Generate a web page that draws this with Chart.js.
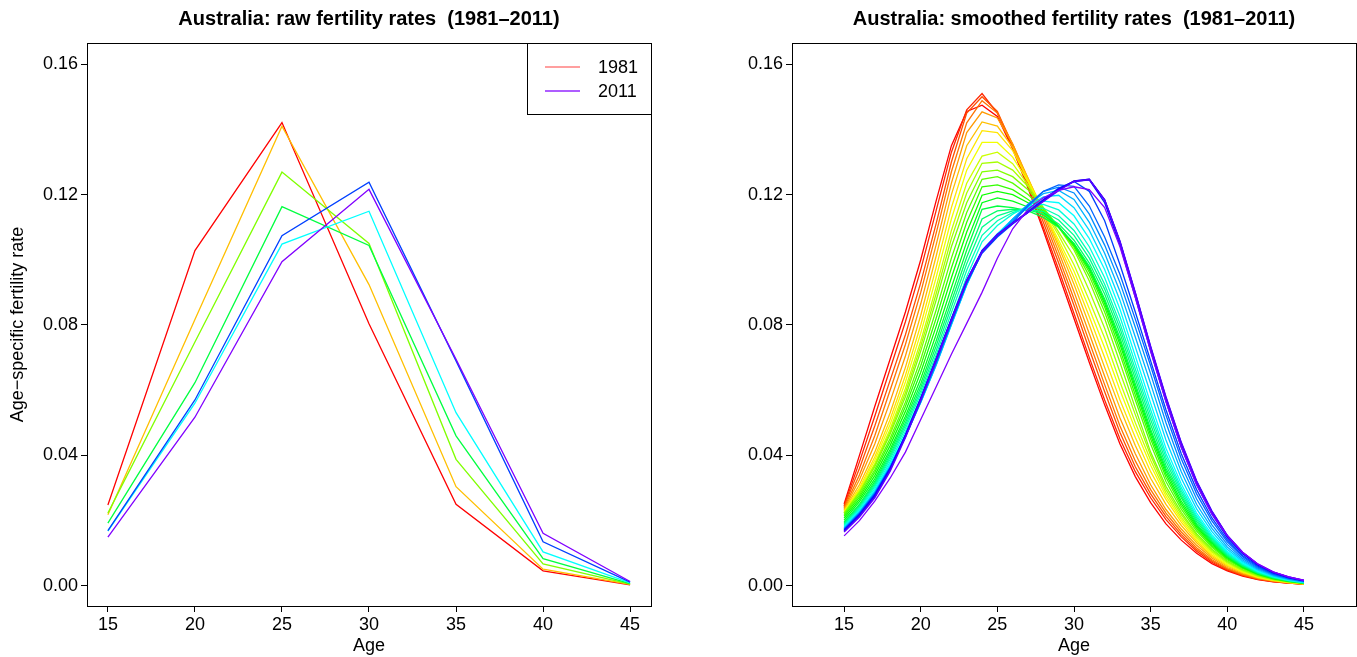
<!DOCTYPE html>
<html>
<head>
<meta charset="utf-8">
<script src="https://cdn.jsdelivr.net/npm/chart.js@4/dist/chart.umd.min.js"></script>
<style>
  body { margin: 0; background: #fff; overflow: hidden; width: 1357px; height: 657px; }
  .panel { position: absolute; top: 0; }
</style>
</head>
<body>
<div class="panel" style="left:0px"><canvas id="rawChart" width="738" height="657"></canvas></div>
<div class="panel" style="left:738px"><canvas id="smoothChart" width="672" height="657"></canvas></div>
<script>
// raw rates, one line per census year, ages 15..45 by 5
const rawAges = [15, 20, 25, 30, 35, 40, 45];
const rawYears = [1981, 1986, 1991, 1996, 2001, 2006, 2011];
const rawRates = [
  [0.0248, 0.1028, 0.1421, 0.0804, 0.0250, 0.0046, 0.0003],
  [0.0218, 0.0817, 0.1410, 0.0924, 0.0304, 0.0051, 0.0004],
  [0.0223, 0.0748, 0.1269, 0.1050, 0.0388, 0.0067, 0.0005],
  [0.0192, 0.0623, 0.1163, 0.1044, 0.0460, 0.0083, 0.0007],
  [0.0168, 0.0560, 0.1048, 0.1149, 0.0531, 0.0104, 0.0009],
  [0.0169, 0.0570, 0.1074, 0.1238, 0.0690, 0.0135, 0.0011],
  [0.0149, 0.0517, 0.0994, 0.1216, 0.0695, 0.0161, 0.0013],
];

// smoothed rates (per 1000 women), single years of age 15..45
const ages = [15, 16, 17, 18, 19, 20, 21, 22, 23, 24, 25, 26, 27, 28, 29, 30,
  31, 32, 33, 34, 35, 36, 37, 38, 39, 40, 41, 42, 43, 44, 45];
const smoothYears = [1981, 1982, 1983, 1984, 1985, 1986, 1987, 1988, 1989, 1990,
  1991, 1992, 1993, 1994, 1995, 1996, 1997, 1998, 1999, 2000, 2001, 2002, 2003,
  2004, 2005, 2006, 2007, 2008, 2009, 2010, 2011];
const smoothPerThousand = [
  [25.1, 40, 55, 69.5, 84, 100, 118, 135, 145.5, 147.4, 144, 134, 122, 109, 95.5, 82, 68.5, 55.5, 43.5, 33.5, 25.5, 19, 14, 10, 6.8, 4.6, 3.0, 1.9, 1.2, 0.8, 0.5],
  [24.6, 38, 52, 66.5, 81, 97, 115, 133, 146, 151, 145, 134.5, 122.5, 110, 97, 83.5, 70, 57, 45, 35, 27, 20.3, 15, 10.6, 7.2, 4.8, 3.2, 2.0, 1.3, 0.8, 0.5],
  [24.3, 36, 49, 63, 77, 93, 111, 130, 145, 150, 145.5, 135, 123.5, 111.5, 99, 86, 72.5, 59.5, 47, 36.5, 28.2, 21.3, 15.7, 11.1, 7.6, 5.1, 3.3, 2.1, 1.35, 0.85, 0.5],
  [23.9, 34, 46, 60, 74, 90, 108, 127, 142, 148.8, 145, 135.5, 124.5, 113, 100.8, 88, 74.8, 61.7, 49, 38.3, 29.5, 22.3, 16.5, 11.7, 8.0, 5.3, 3.5, 2.2, 1.4, 0.9, 0.55],
  [23.5, 32.5, 43.5, 56.5, 70.5, 86.5, 104.5, 123.5, 139, 145.4, 143.5, 135.5, 125, 114.2, 102.5, 90.2, 77.3, 64.3, 51.5, 40.5, 31, 23.4, 17.4, 12.4, 8.5, 5.6, 3.7, 2.35, 1.5, 0.95, 0.55],
  [23.2, 31, 41, 53, 67, 83, 101, 120, 135, 142.3, 141, 134.5, 125, 115, 104, 92.5, 80, 67, 54.5, 43, 33, 25, 18.5, 13.2, 9.0, 6.0, 4.0, 2.5, 1.6, 1.0, 0.6],
  [22.9, 30, 39.5, 51, 64.5, 80, 97.5, 116, 131, 139.6, 139, 133.5, 124.5, 115, 105, 94.5, 82.5, 70, 57, 45.5, 35, 26.5, 19.5, 13.8, 9.4, 6.3, 4.2, 2.6, 1.65, 1.05, 0.6],
  [22.6, 29.5, 38.5, 49.5, 62.5, 77.5, 94.5, 112.5, 127.5, 136, 136, 131.5, 124, 115.2, 106, 96.5, 85, 73, 60, 48, 37, 27.5, 20.3, 14.3, 9.9, 6.6, 4.4, 2.75, 1.75, 1.1, 0.65],
  [22.4, 29, 37.5, 48, 60.5, 75, 91.5, 109, 123.5, 131.8, 133, 129.5, 123, 115.5, 107.5, 98.5, 87.5, 76, 62.5, 50, 38.5, 28.5, 21, 14.9, 10.4, 7.0, 4.6, 2.9, 1.8, 1.15, 0.7],
  [22.3, 28.7, 37, 47.2, 59.2, 73.5, 89.5, 106.5, 120.5, 129.6, 130, 127.5, 122.5, 116, 108.5, 101, 90.5, 79, 65.5, 52.5, 40, 29.5, 21.8, 15.5, 10.8, 7.3, 4.8, 3.05, 1.9, 1.2, 0.7],
  [22.2, 28.4, 36.5, 46.5, 58, 72, 87.5, 104, 117.5, 127, 127.5, 125.5, 121.5, 116, 110, 103, 93.5, 82, 68.5, 54.5, 41, 30.5, 22.5, 16, 11.2, 7.6, 5.0, 3.2, 2.0, 1.25, 0.75],
  [21.8, 27.8, 35.6, 45.2, 56.3, 69.5, 84.5, 100.5, 114.5, 124.7, 125.5, 123.5, 120, 115.5, 110, 103.8, 95, 84, 71, 57, 43.5, 32, 23.5, 16.8, 11.8, 8.0, 5.3, 3.4, 2.1, 1.3, 0.8],
  [21.4, 27.2, 34.8, 44.2, 55, 67.5, 82, 97.5, 111.5, 122.4, 123, 121.5, 118.5, 115, 110.2, 104.3, 96.2, 85.5, 72.5, 58.5, 45, 33.3, 24.4, 17.5, 12.3, 8.3, 5.5, 3.5, 2.2, 1.35, 0.8],
  [20.8, 26.5, 33.8, 43, 53.5, 65.5, 79.5, 94.5, 108.5, 119.8, 121, 120, 117.5, 114.5, 110.2, 104.6, 97, 86.5, 74, 60, 46.2, 34.3, 25.2, 18.1, 12.7, 8.6, 5.7, 3.6, 2.25, 1.4, 0.85],
  [20.1, 25.8, 32.8, 41.8, 52, 63.5, 77, 91.5, 105.5, 117.5, 119, 118, 116.2, 113.8, 110, 104.8, 97.5, 87.3, 75, 61, 47.2, 35.2, 26, 18.6, 13.1, 8.8, 5.8, 3.7, 2.3, 1.45, 0.85],
  [19.5, 25, 32, 41, 51, 62, 75, 89, 103, 115.5, 116.5, 116, 115, 113, 110, 105, 98, 88, 76, 62, 48, 36, 27, 19, 13.5, 9, 6, 3.8, 2.4, 1.5, 0.9],
  [19.2, 24.6, 31.4, 40.2, 50, 60.8, 73.5, 87.2, 100.8, 112.5, 115, 115.5, 115.3, 114, 111, 106, 99, 89.5, 77.5, 63.5, 49.5, 37, 27.6, 19.7, 13.9, 9.3, 6.2, 3.9, 2.45, 1.55, 0.9],
  [18.9, 24.2, 30.9, 39.5, 49.2, 59.8, 72, 85.5, 98.8, 110, 113.5, 115, 115.5, 114.8, 112.2, 107.5, 100.5, 91, 79, 65, 51, 38.2, 28.4, 20.3, 14.3, 9.6, 6.4, 4.05, 2.55, 1.6, 0.95],
  [18.6, 23.8, 30.4, 38.8, 48.3, 58.8, 70.7, 83.8, 96.8, 107.5, 112, 114.5, 116, 115.8, 113.5, 109, 102, 92.5, 80.5, 66.5, 52.5, 39.4, 29.2, 20.9, 14.7, 9.9, 6.6, 4.2, 2.65, 1.65, 1.0],
  [18.3, 23.4, 29.8, 38, 47.3, 57.7, 69.3, 82, 94.8, 105.5, 110.5, 114, 116.5, 117, 115.3, 111, 104, 94.5, 82.5, 68.3, 54, 40.6, 30.1, 21.5, 15.1, 10.2, 6.8, 4.35, 2.75, 1.7, 1.0],
  [18, 23, 29.3, 37.3, 46.3, 56.5, 67.8, 80.2, 92.5, 103, 108, 112.5, 116, 118, 117.5, 113.5, 106.5, 97, 84.8, 70.5, 56, 42.2, 31.2, 22.3, 15.7, 10.6, 7.1, 4.5, 2.85, 1.8, 1.05],
  [17.8, 22.7, 28.9, 36.8, 45.9, 56.2, 67.6, 80, 92.2, 102.5, 107.5, 112.5, 116.5, 119.3, 119.8, 116, 109, 99.5, 87.5, 73.3, 59, 44.7, 33, 23.6, 16.6, 11.2, 7.5, 4.8, 3.0, 1.9, 1.1],
  [17.6, 22.5, 28.6, 36.5, 45.7, 56.3, 67.8, 80.3, 92.4, 102.5, 107.5, 112.5, 117, 120.3, 121.3, 118.5, 111.5, 102, 90.3, 76.3, 62, 47.3, 35, 25, 17.6, 11.9, 7.9, 5.1, 3.2, 2.0, 1.2],
  [17.4, 22.3, 28.4, 36.3, 45.7, 56.5, 68.2, 80.7, 92.8, 102.5, 107.5, 112, 117, 121, 122.3, 120.5, 114, 104.5, 93, 79.3, 65, 50, 37, 26.6, 18.7, 12.7, 8.4, 5.4, 3.4, 2.15, 1.3],
  [17.3, 22.1, 28.2, 36.2, 45.8, 56.8, 68.6, 81, 93, 102.5, 107.3, 111.5, 116.5, 121, 123, 122.5, 116.5, 107, 95.5, 81.8, 67.5, 52.4, 39, 28.2, 19.9, 13.5, 8.9, 5.7, 3.6, 2.3, 1.4],
  [17.2, 22, 28, 36, 46, 57, 69, 81, 93, 102, 107, 111, 114.5, 118.5, 122, 124, 121, 112, 98.5, 84, 69, 54, 40.5, 29.5, 20.8, 14.1, 9.3, 6, 3.8, 2.4, 1.5],
  [17, 21.8, 27.8, 36, 46.3, 57.5, 69.5, 81.7, 93.5, 102.5, 107.5, 111.3, 114.8, 118.3, 121.8, 124, 124.5, 117.5, 104.5, 88.5, 72, 56.5, 42.5, 31, 22, 14.8, 9.8, 6.3, 4.0, 2.5, 1.55],
  [16.9, 21.6, 27.6, 35.8, 46.2, 57.5, 69.6, 81.9, 93.7, 102.7, 107.7, 111.2, 114.6, 118.2, 121.6, 124.1, 124.7, 118.3, 105.5, 89.5, 73, 57.5, 43.5, 31.8, 22.6, 15.3, 10.1, 6.5, 4.1, 2.6, 1.6],
  [16.7, 21.4, 27.3, 35.5, 45.9, 57.3, 69.4, 81.8, 93.7, 102.8, 107.8, 111.3, 114.6, 118, 121.4, 124.2, 124.7, 118.5, 105.8, 90, 73.5, 58, 44, 32.2, 22.9, 15.5, 10.3, 6.6, 4.2, 2.7, 1.65],
  [16.5, 21.1, 27, 35.1, 45.4, 56.8, 69, 81.4, 93.3, 102.5, 107.6, 111.2, 114.5, 117.9, 121.2, 124, 124.6, 118.3, 105.5, 89.8, 73.3, 57.8, 43.8, 32, 22.8, 15.4, 10.2, 6.6, 4.2, 2.7, 1.65],
  [15.3, 20, 26, 33, 41, 51, 61, 71, 80.5, 90, 100.5, 109.5, 115.5, 119, 121.3, 122.4, 121.5, 116, 104, 88.5, 72, 56.5, 42.5, 31, 22, 15.3, 10.3, 6.7, 4.3, 2.7, 1.7],
];

const xTicks = [15, 20, 25, 30, 35, 40, 45];
const yTicks = [0, 0.04, 0.08, 0.12, 0.16];

const FONT = "'Liberation Sans', Arial, Helvetica, sans-serif";

// R's rainbow(n, end = 0.75)
function rainbow(n, end) {
  const out = [];
  for (let i = 0; i < n; i++) {
    const h = (end * i / (n - 1)) * 6;
    const k = Math.floor(h), f = h - k;
    const rgb = [[1, f, 0], [1 - f, 1, 0], [0, 1, f], [0, 1 - f, 1], [f, 0, 1], [1, 0, 1 - f]][k % 6];
    out.push("rgb(" + rgb.map(c => Math.round(c * 255)).join(",") + ")");
  }
  return out;
}

// box round the plot + main title centred over the plot, like base R
const boxPlugin = {
  id: "box",
  afterDraw(chart, args, opts) {
    const { ctx, chartArea: a } = chart;
    ctx.save();
    ctx.strokeStyle = "#000";
    ctx.lineWidth = 1;
    ctx.strokeRect(Math.round(a.left) + 0.5, Math.round(a.top) + 0.5,
      Math.round(a.right - a.left), Math.round(a.bottom - a.top));
    ctx.font = "bold 20px " + FONT;
    ctx.fillStyle = "#000";
    ctx.textAlign = "center";
    ctx.textBaseline = "middle";
    ctx.fillText(opts.text, (a.left + a.right) / 2, 19);
    ctx.restore();
  },
};

const legendPlugin = {
  id: "cornerLegend",
  afterDraw(chart) {
    const { ctx, chartArea: a } = chart;
    const sets = chart.data.datasets;
    const items = [sets[0], sets[sets.length - 1]];
    const colors = ["rgba(255,0,0,0.5)", "rgba(128,0,255,0.85)"];
    ctx.save();
    ctx.strokeStyle = "#000";
    ctx.lineWidth = 1;
    ctx.strokeRect(527.5, a.top + 0.5, a.right - 527, 71);
    ctx.font = "18px " + FONT;
    ctx.fillStyle = "#000";
    ctx.textBaseline = "middle";
    items.forEach((d, i) => {
      const y = a.top + 24 + i * 24;
      ctx.strokeStyle = colors[i];
      ctx.lineWidth = 1.3;
      ctx.beginPath();
      ctx.moveTo(545, y);
      ctx.lineTo(580, y);
      ctx.stroke();
      ctx.fillText(d.label, 598, y + 1);
    });
    ctx.restore();
  },
};

function makeOptions(title, xMin, xMax, yTitle, yWidth, padRight) {
  return {
    responsive: false,
    animation: false,
    events: [],
    layout: { padding: { left: 0, right: padRight, top: 43, bottom: 0 } },
    plugins: {
      legend: { display: false },
      tooltip: { enabled: false },
      title: { display: false },
      box: { text: title },
    },
    scales: {
      x: {
        type: "linear",
        min: xMin,
        max: xMax,
        afterBuildTicks: s => { s.ticks = xTicks.map(v => ({ value: v })); },
        afterFit: s => { s.height = 51; },
        ticks: { color: "#000", font: { family: FONT, size: 18 }, padding: 2 },
        grid: { drawOnChartArea: false, tickLength: 6, tickColor: "#000", tickWidth: 1 },
        border: { display: false },
        title: { display: true, text: "Age", color: "#000", font: { family: FONT, size: 18 }, padding: { top: 1, bottom: 0 } },
      },
      y: {
        type: "linear",
        min: -0.0062,
        max: 0.1665,
        afterBuildTicks: s => { s.ticks = yTicks.map(v => ({ value: v })); },
        afterFit: s => { s.width = yWidth; },
        ticks: { color: "#000", font: { family: FONT, size: 18 }, padding: 3, callback: v => v.toFixed(2) },
        grid: { drawOnChartArea: false, tickLength: 6, tickColor: "#000", tickWidth: 1 },
        border: { display: false },
        title: { display: !!yTitle, text: yTitle, color: "#000", font: { family: FONT, size: 18 }, padding: { top: 7, bottom: 0 } },
      },
    },
  };
}

const rawColors = rainbow(rawYears.length, 0.75);
new Chart(document.getElementById("rawChart"), {
  type: "line",
  data: {
    datasets: rawYears.map((yr, i) => ({
      label: String(yr),
      data: rawAges.map((a, j) => ({ x: a, y: rawRates[i][j] })),
      borderColor: rawColors[i],
      borderWidth: 1.3,
      pointRadius: 0,
      tension: 0,
      fill: false,
      order: rawYears.length - i,
    })),
  },
  options: makeOptions("Australia: raw fertility rates  (1981\u20132011)", 13.8, 46.2,
    "Age\u2212specific fertility rate", 87, 87),
  plugins: [boxPlugin, legendPlugin],
});

const smoothColors = rainbow(smoothYears.length, 0.75);
new Chart(document.getElementById("smoothChart"), {
  type: "line",
  data: {
    datasets: smoothYears.map((yr, i) => ({
      label: String(yr),
      data: ages.map((a, j) => ({ x: a, y: smoothPerThousand[i][j] / 1000 })),
      borderColor: smoothColors[i],
      borderWidth: 1.3,
      pointRadius: 0,
      tension: 0,
      fill: false,
      order: smoothYears.length - i,
    })),
  },
  options: makeOptions("Australia: smoothed fertility rates  (1981\u20132011)", 11.6, 48.4,
    "", 54, 54),
  plugins: [boxPlugin],
});
</script>
</body>
</html>
